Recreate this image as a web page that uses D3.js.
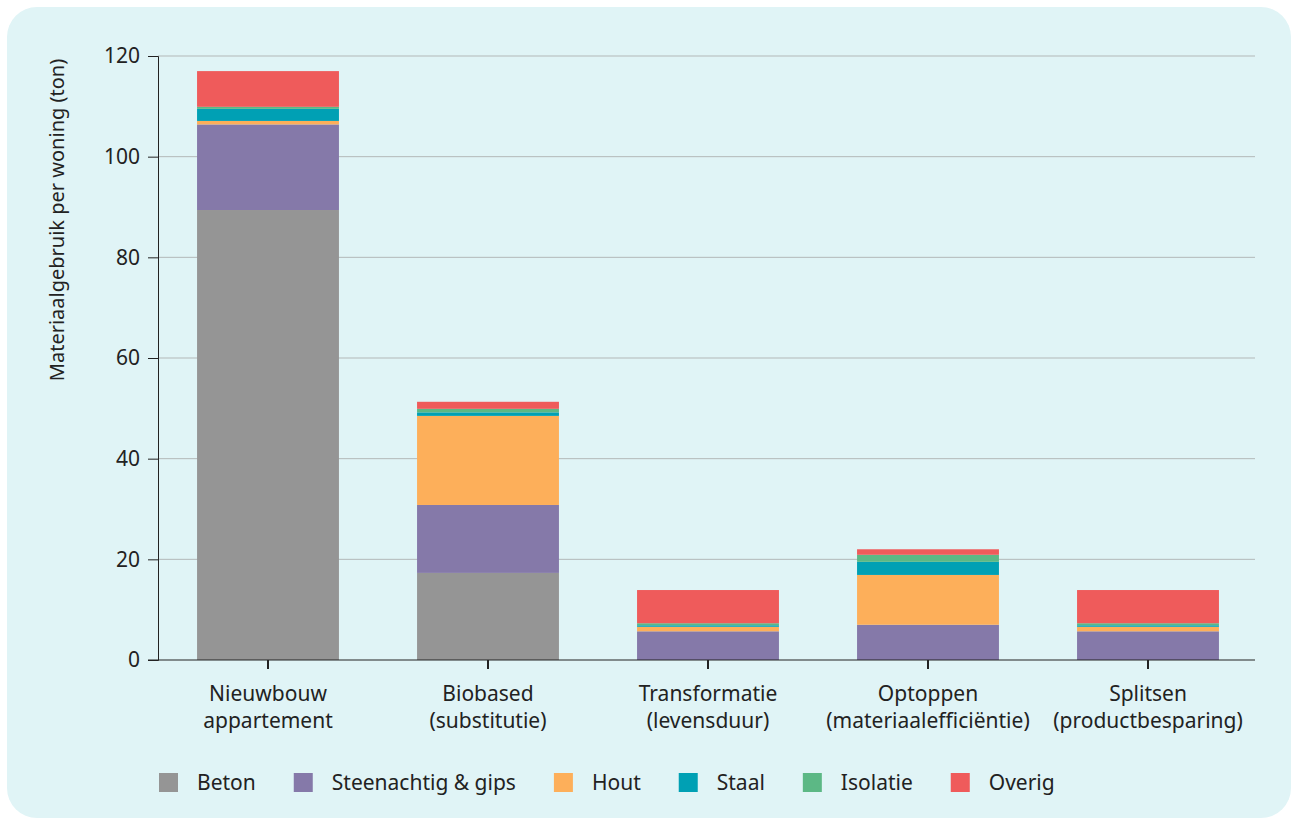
<!DOCTYPE html>
<html>
<head>
<meta charset="utf-8">
<script src="https://cdn.jsdelivr.net/npm/d3@7"></script>
<style>
  body { margin: 0; background: #fff; }
  text { font-family: 'Noto Sans', sans-serif; fill: #222; }
</style>
</head>
<body>
<script>
// chart data
const categories = [
  ['Nieuwbouw', 'appartement'],
  ['Biobased', '(substitutie)'],
  ['Transformatie', '(levensduur)'],
  ['Optoppen', '(materiaalefficiëntie)'],
  ['Splitsen', '(productbesparing)']
]
const seriesNames = ['Beton', 'Steenachtig & gips', 'Hout', 'Staal', 'Isolatie', 'Overig']
const beton = [89.4, 17.3, 0, 0, 0]
const steen = [17.0, 13.5, 5.7, 7.0, 5.7]
const hout = [0.7, 17.7, 0.9, 9.9, 0.9]
const staal = [2.4, 0.7, 0.3, 2.6, 0.3]
const isolatie = [0.4, 0.7, 0.4, 1.4, 0.4]
const overig = [7.1, 1.4, 6.6, 1.1, 6.6]
const yTicks = [0, 20, 40, 60, 80, 100, 120]
const colors = ['#959595', '#8579a9', '#fdaf5a', '#00a0b4', '#5cb885', '#ef5b5b']

const width = 1291
const height = 818
const margin = { top: 56, right: 36, bottom: 158, left: 158 }

const rows = categories.map((c, i) => ({
  key: i,
  'Beton': beton[i],
  'Steenachtig & gips': steen[i],
  'Hout': hout[i],
  'Staal': staal[i],
  'Isolatie': isolatie[i],
  'Overig': overig[i]
}))

const svg = d3.select('body').append('svg')
  .attr('width', width)
  .attr('height', height)

svg.append('rect')
  .attr('x', 7).attr('y', 7)
  .attr('width', width - 7).attr('height', height - 7)
  .attr('rx', 30)
  .attr('fill', '#e0f4f6')

const g = svg.append('g')
  .attr('transform', `translate(${margin.left}, ${margin.top})`)

const w = width - margin.left - margin.right
const h = height - margin.top - margin.bottom

const xScale = d3.scaleBand()
  .domain(rows.map(d => d.key))
  .range([0, 1100])
  .paddingInner(0.355)
  .paddingOuter(0.1775)

const yScale = d3.scaleLinear()
  .domain([0, 120])
  .range([h, 0])

// gridlines
g.append('g')
  .selectAll('line')
  .data(yTicks.slice(1))
  .enter().append('line')
  .attr('x1', 0).attr('x2', w)
  .attr('y1', d => yScale(d)).attr('y2', d => yScale(d))
  .style('stroke', '#b3b8b8')
  .style('stroke-width', 1)

const stack = d3.stack().keys(seriesNames)(rows)

g.selectAll('.layer')
  .data(stack)
  .enter().append('g')
  .attr('class', 'layer')
  .attr('fill', (d, i) => colors[i])
  .selectAll('rect')
  .data(d => d)
  .enter().append('rect')
  .attr('x', d => xScale(d.data.key))
  .attr('width', xScale.bandwidth())
  .attr('y', d => yScale(d[1]))
  .attr('height', d => yScale(d[0]) - yScale(d[1]))

// y axis
const yAxis = g.append('g')
  .call(d3.axisLeft(yScale).tickValues(yTicks).tickSize(10).tickPadding(8))
yAxis.select('.domain').style('stroke', '#222')
yAxis.selectAll('line').style('stroke', '#222')
yAxis.selectAll('text').style('font-size', '21px').style('font-family', "'Noto Sans', sans-serif").attr('fill', '#222')

// x axis
const xAxis = g.append('g')
  .attr('transform', `translate(0, ${h})`)
  .call(d3.axisBottom(xScale).tickSize(9).tickFormat(''))
xAxis.select('.domain').remove()
xAxis.selectAll('line').style('stroke', '#222').style('stroke-width', 2)

g.append('line')
  .attr('x1', -10).attr('x2', w)
  .attr('y1', h).attr('y2', h)
  .style('stroke', '#222')

g.selectAll('.cat')
  .data(categories)
  .enter().append('text')
  .attr('class', 'cat')
  .attr('text-anchor', 'middle')
  .style('font-size', '21px')
  .each(function (d, i) {
    const t = d3.select(this)
    const cx = xScale(i) + xScale.bandwidth() / 2
    d.forEach((line, j) => {
      t.append('tspan').attr('x', cx).attr('y', h + 41 + j * 27).text(line)
    })
  })

// y label
svg.append('text')
  .attr('transform', 'translate(64, 220) rotate(-90)')
  .attr('text-anchor', 'middle')
  .style('font-size', '20px')
  .text('Materiaalgebruik per woning (ton)')

// legend
const legend = svg.append('g').attr('transform', 'translate(159, 773)')
let lx = 0
seriesNames.forEach((name, i) => {
  const item = legend.append('g').attr('transform', `translate(${lx}, 0)`)
  item.append('rect')
    .attr('width', 19).attr('height', 19)
    .attr('fill', colors[i])
  const txt = item.append('text')
    .attr('x', 38).attr('y', 17)
    .style('font-size', '21px')
    .text(name)
  lx += 38 + txt.node().getComputedTextLength() + 38
})
</script>
</body>
</html>
